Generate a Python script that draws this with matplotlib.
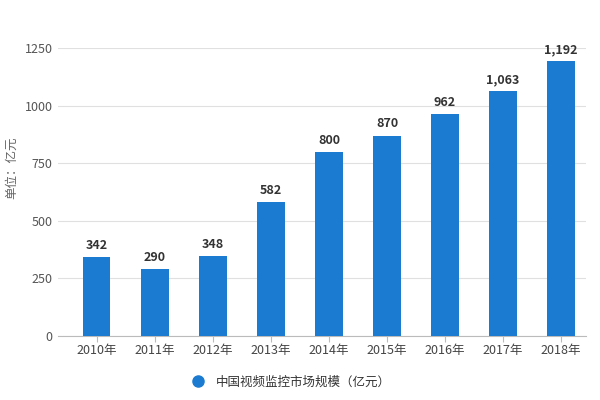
import matplotlib
matplotlib.use("Agg")
import matplotlib.pyplot as plt
from matplotlib.lines import Line2D

plt.rcParams['font.family'] = ['Noto Sans CJK SC', 'DejaVu Sans']

years = ["2010年", "2011年", "2012年", "2013年", "2014年", "2015年", "2016年", "2017年", "2018年"]
values = [342, 290, 348, 582, 800, 870, 962, 1063, 1192]
value_labels = ["342", "290", "348", "582", "800", "870", "962", "1,063", "1,192"]
yticks = [0, 250, 500, 750, 1000, 1250]

color = "#1a7bd0"

fig = plt.figure(figsize=(6, 4), dpi=100)
ax = fig.add_axes([0.097, 0.16, 0.88, 0.72])

x = list(range(len(years)))
ax.bar(x, values, width=0.48, color=color, zorder=3)
for xi, v, lab in zip(x, values, value_labels):
    ax.text(xi, v + 22, lab, ha="center", va="bottom", fontsize=9, fontweight="bold", color="#333333", zorder=4)

ax.set_ylim(0, 1250)
ax.set_xlim(-0.66, 8.43)
ax.set_yticks(yticks)
ax.set_yticklabels([str(t) for t in yticks], fontsize=9, color="#555555")
ax.set_xticks(x)
ax.set_xticklabels(years, fontsize=9, color="#444444")
ax.grid(axis="y", color="#e0e0e0", linewidth=0.8, zorder=0)
for s in ["top", "right", "left"]:
    ax.spines[s].set_visible(False)
ax.spines["bottom"].set_color("#bbbbbb")
ax.tick_params(axis="y", length=0, pad=4)
ax.tick_params(axis="x", length=4, color="#bbbbbb", pad=2)

fig.text(0.02, 0.58, "单位：亿元", rotation=90, ha="center", va="center", fontsize=9, color="#666666")

handle = Line2D([], [], marker="o", linestyle="none", markersize=8, markerfacecolor=color, markeredgecolor=color)
fig.legend([handle], ["中国视频监控市场规模（亿元）"], loc="center", bbox_to_anchor=(0.48, 0.045),
           frameon=False, fontsize=9, handletextpad=0.4, labelcolor="#333333")

fig.savefig("out.png", dpi=100)
